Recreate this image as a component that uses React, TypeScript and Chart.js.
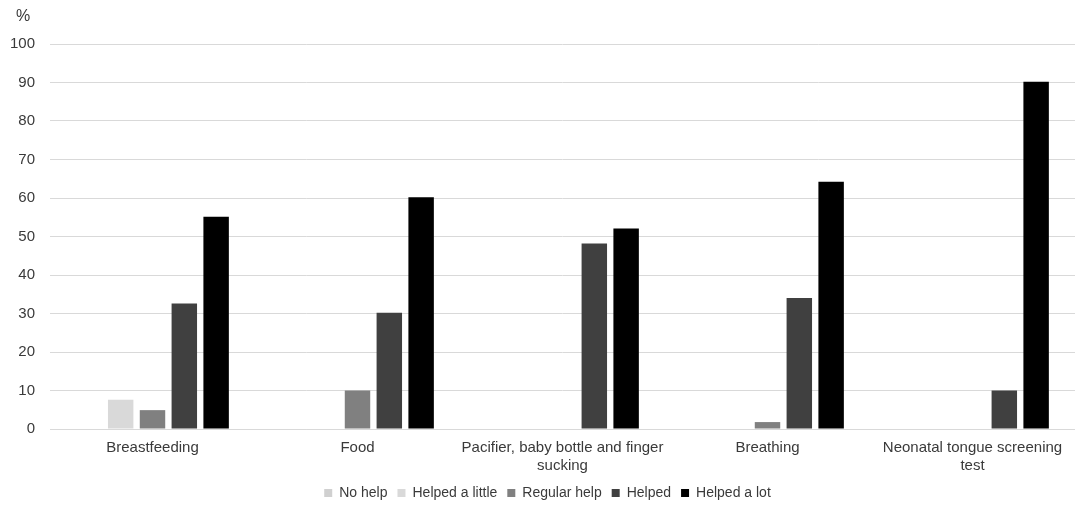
import React, { useEffect, useRef } from "react";
import { Chart, registerables } from "chart.js";

Chart.register(...registerables);

const categories: string[][] = [
  ["Breastfeeding"],
  ["Food"],
  ["Pacifier, baby bottle and finger", "sucking"],
  ["Breathing"],
  ["Neonatal tongue screening", "test"],
];
const seriesNames = ["No help", "Helped a little", "Regular help", "Helped", "Helped a lot"];
const seriesColors = ["#d0d0d0", "#d9d9d9", "#808080", "#404040", "#000000"];
const noHelp = [0, 0, 0, 0, 0];
const helpedALittle = [7.6, 0, 0, 0, 0];
const regularHelp = [4.9, 10, 0, 1.8, 0];
const helped = [32.6, 30.2, 48.2, 34, 10];
const helpedALot = [55.1, 60.2, 52.1, 64.2, 90.2];
const yMin = 0;
const yMax = 100;
const yStep = 10;
const yUnit = "%";

const FONT = "'Liberation Sans', Arial, sans-serif";
const TEXT = "#3a3a3a";

export default function App() {
  const ref = useRef<HTMLCanvasElement | null>(null);
  useEffect(() => {
    if (!ref.current) return;
    const values = [noHelp, helpedALittle, regularHelp, helped, helpedALot];
    const unitPlugin = {
      id: "unitLabel",
      afterLayout(chart: any) {
        if (chart.legend) {
          chart.legend.left = 20;
        }
      },
      afterDraw(chart: any) {
        const { ctx, chartArea } = chart;
        ctx.save();
        ctx.fillStyle = TEXT;
        ctx.font = `16px ${FONT}`;
        ctx.textAlign = "center";
        ctx.textBaseline = "middle";
        ctx.fillText(yUnit, 23, chartArea.top - 27);
        ctx.restore();
      },
    };
    const chart = new Chart(ref.current, {
      type: "bar",
      data: {
        labels: categories,
        datasets: seriesNames.map((name, i) => ({
          label: name,
          data: values[i],
          backgroundColor: seriesColors[i],
          borderWidth: 0,
          barPercentage: 0.8,
          categoryPercentage: 0.776,
        })),
      },
      options: {
        responsive: true,
        maintainAspectRatio: false,
        animation: false,
        layout: { padding: { top: 44, left: 0, right: 0, bottom: -4 } },
        plugins: {
          tooltip: { enabled: false },
          title: { display: false },
          legend: {
            position: "bottom",
            labels: {
              boxWidth: 8,
              boxHeight: 8,
              padding: 10,
              color: TEXT,
              font: { family: FONT, size: 14 },
            },
          },
        },
        scales: {
          x: {
            grid: { display: false, drawTicks: false },
            border: { display: true, color: "#d9d9d9", width: 1 },
            ticks: {
              color: TEXT,
              font: { family: FONT, size: 15 },
              padding: 10,
              maxRotation: 0,
              autoSkip: false,
            },
            afterFit: (scale: any) => {
              scale.height = 47;
            },
          },
          y: {
            min: yMin,
            max: yMax,
            ticks: {
              stepSize: yStep,
              color: TEXT,
              font: { family: FONT, size: 15 },
              padding: 15,
            },
            grid: { color: "#d9d9d9", drawTicks: false },
            border: { display: false },
            afterFit: (scale: any) => {
              scale.width = 50;
            },
          },
        },
      },
      plugins: [unitPlugin],
    });
    return () => chart.destroy();
  }, []);
  return (
    <div style={{ position: "fixed", left: 0, top: 0, width: 1075, height: 506, background: "#fff" }}>
      <canvas ref={ref} />
    </div>
  );
}
